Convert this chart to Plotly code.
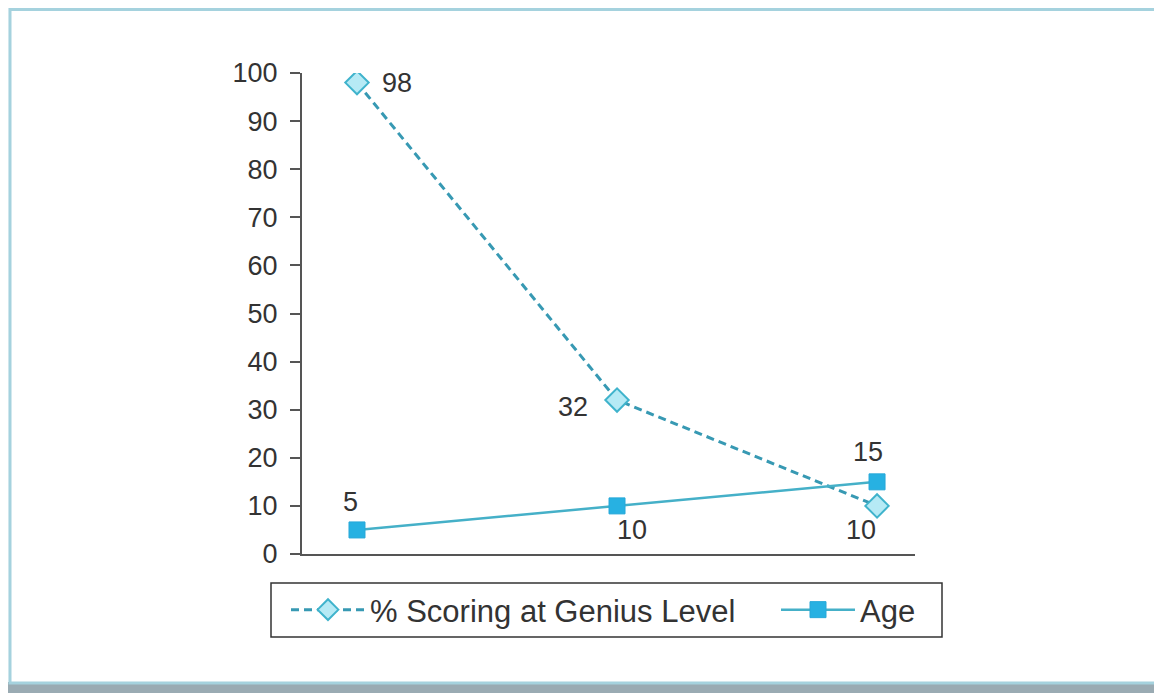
import plotly.graph_objects as go

categories = [0, 1, 2]
genius_pct = [98, 32, 10]
age = [5, 10, 15]
genius_label_shift = [(40, 0), (-44, -7), (-16, -24)]
age_label_shift = [(-6, 28), (15, -24), (-9, 30)]

# page body has an 8px margin; reference coordinates are converted below
OFF = 8
W, H = 1162 - OFF, 693 - OFF
L, R, T, B = 302, 915, 73, 554  # plot area in reference pixel coordinates

def px(x):
    return (x - L) / (R - L)

def py(y):
    return (B - y) / (B - T)

FONT = "Liberation Sans"
TXT = "#333333"

fig = go.Figure()
fig.add_trace(go.Scatter(
    x=categories, y=genius_pct, name="% Scoring at Genius Level",
    mode="lines+markers", legend="legend",
    line=dict(color="#3799b3", width=3, dash="8px,5px"),
    marker=dict(symbol="diamond", size=18, color="#b6eaf5",
                line=dict(color="#3fb3cc", width=2)),
))
fig.add_trace(go.Scatter(
    x=categories, y=age, name="Age",
    mode="lines+markers", legend="legend2",
    line=dict(color="#45b0c8", width=2.5),
    marker=dict(symbol="square", size=16, color="#27b1e2",
                line=dict(color="#27a8d8", width=1)),
))

annotations = []
for xs, ys, shifts in [(categories, genius_pct, genius_label_shift),
                       (categories, age, age_label_shift)]:
    for xv, yv, (dx, dy) in zip(xs, ys, shifts):
        annotations.append(dict(x=xv, y=yv, text=str(yv), showarrow=False,
                                xshift=dx, yshift=dy,
                                font=dict(family=FONT, size=27, color=TXT)))

shapes = [
    dict(type="rect", xref="paper", yref="paper", layer="below",
         x0=px(-10), x1=px(1200), y0=py(700), y1=py(682),
         line=dict(width=0), fillcolor="#9aabb3"),
    dict(type="rect", xref="paper", yref="paper", layer="below",
         x0=px(10), x1=px(1159), y0=py(683), y1=py(9.5),
         line=dict(color="#a5d2de", width=3), fillcolor="white"),
    # legend frame
    dict(type="rect", xref="paper", yref="paper", layer="below",
         x0=px(271), x1=px(942), y0=py(637), y1=py(583),
         line=dict(color="#333333", width=1.5), fillcolor="white"),
]

legend_common = dict(orientation="h", yanchor="middle", y=py(610),
                     xanchor="left", borderwidth=0,
                     bgcolor="rgba(0,0,0,0)",
                     font=dict(family=FONT, size=31, color=TXT),
                     itemwidth=74)

fig.update_layout(
    width=W, height=H,
    margin=dict(l=L - OFF, r=1162 - R, t=T - OFF, b=693 - B),
    paper_bgcolor="#f6fafc", plot_bgcolor="rgba(0,0,0,0)",
    font=dict(family=FONT, size=27, color=TXT),
    showlegend=True,
    legend=dict(x=px(286), **legend_common),
    legend2=dict(x=px(776), **legend_common),
    xaxis=dict(range=[-0.2115, 2.146], showgrid=False, zeroline=False,
               showticklabels=False, ticks="", showline=True,
               linecolor="#555555", linewidth=2),
    yaxis=dict(range=[0, 100], tickvals=list(range(0, 101, 10)),
               showgrid=False, zeroline=False, ticks="outside", ticklen=10,
               tickcolor="#555555", tickwidth=2, showline=True,
               linecolor="#555555", linewidth=2, ticklabelstandoff=7,
               tickfont=dict(family=FONT, size=27, color=TXT)),
    annotations=annotations, shapes=shapes,
)

fig.write_html("out.html")
